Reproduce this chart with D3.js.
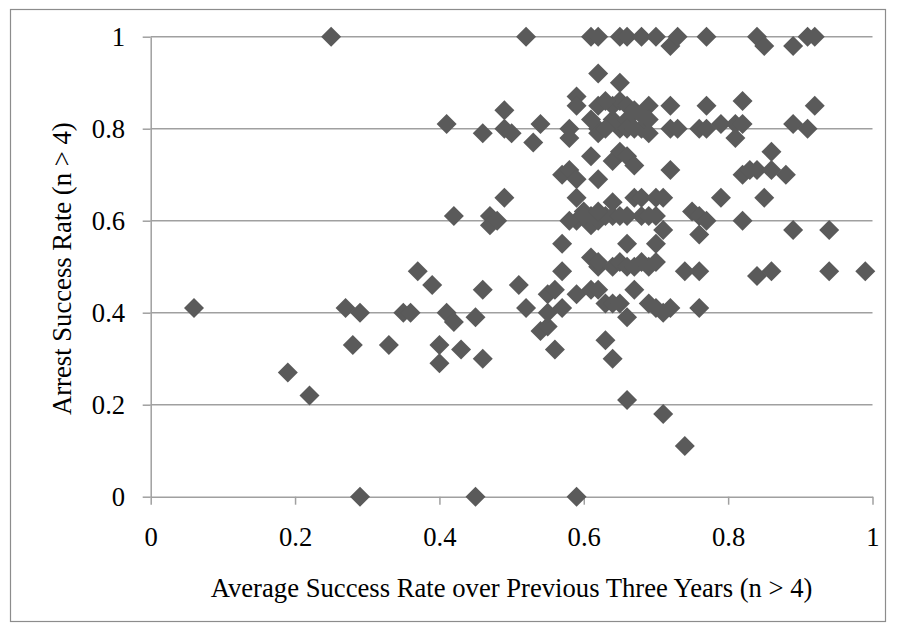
<!DOCTYPE html>
<html>
<head>
<meta charset="utf-8">
<script src="https://cdn.jsdelivr.net/npm/d3@7"></script>
<style>
  html, body { margin: 0; padding: 0; background: #fff; }
  svg { display: block; }
  text { font-family: "Liberation Serif", "Times New Roman", serif; fill: #000; }
</style>
</head>
<body>
<svg id="chart" width="897" height="630"></svg>
<script>
// ---- data ----
const xValues = [
  0.06,0.19,0.22,0.25,0.27,0.28,0.29,0.29,0.33,0.35,0.36,0.37,0.39,0.40,0.40,0.41,0.42,0.42,0.41,0.43,
  0.45,0.45,0.46,0.46,0.46,0.47,0.47,0.48,0.49,0.49,0.49,0.50,0.51,0.52,0.52,0.53,0.54,0.54,0.55,0.55,
  0.55,0.56,0.56,0.57,0.57,0.57,0.57,0.58,0.58,0.58,0.59,0.59,0.59,0.59,0.59,0.59,0.59,0.60,0.61,0.61,
  0.61,0.61,0.61,0.61,0.62,0.62,0.62,0.62,0.62,0.62,0.62,0.62,0.62,0.62,0.63,0.63,0.63,0.64,0.64,0.64,
  0.64,0.64,0.64,0.64,0.64,0.65,0.65,0.65,0.65,0.65,0.65,0.65,0.65,0.66,0.66,0.66,0.66,0.66,0.66,0.66,
  0.66,0.66,0.66,0.67,0.67,0.67,0.67,0.67,0.68,0.68,0.68,0.68,0.68,0.69,0.69,0.69,0.69,0.69,0.69,0.70,
  0.70,0.70,0.70,0.70,0.70,0.71,0.71,0.71,0.71,0.72,0.72,0.72,0.72,0.72,0.73,0.73,0.74,0.74,0.75,0.76,
  0.76,0.76,0.76,0.76,0.77,0.77,0.77,0.77,0.79,0.79,0.81,0.81,0.82,0.82,0.82,0.82,0.83,0.84,0.84,0.84,
  0.85,0.85,0.86,0.86,0.86,0.88,0.89,0.89,0.89,0.91,0.91,0.92,0.92,0.94,0.94,0.99,
  0.60,0.61,0.62,0.63,0.63,0.67,0.68,0.58
];
const yValues = [
  0.41,0.27,0.22,1.00,0.41,0.33,0.40,0.00,0.33,0.40,0.40,0.49,0.46,0.33,0.29,0.40,0.38,0.61,0.81,0.32,
  0.39,0.00,0.45,0.30,0.79,0.61,0.59,0.60,0.84,0.80,0.65,0.79,0.46,0.41,1.00,0.77,0.81,0.36,0.37,0.40,
  0.44,0.45,0.32,0.41,0.49,0.55,0.70,0.71,0.80,0.78,0.87,0.85,0.69,0.65,0.60,0.44,0.00,0.62,0.82,0.74,
  0.59,0.52,0.45,1.00,1.00,0.92,0.85,0.80,0.79,0.69,0.60,0.50,0.45,0.51,0.42,0.34,0.61,0.82,0.85,0.73,
  0.64,0.61,0.50,0.42,0.30,1.00,0.90,0.86,0.80,0.75,0.61,0.51,0.42,1.00,0.85,0.82,0.80,0.74,0.61,0.55,
  0.50,0.39,0.21,0.84,0.72,0.65,0.50,0.45,1.00,0.65,0.61,0.80,0.51,0.85,0.82,0.79,0.61,0.50,0.42,1.00,
  0.65,0.61,0.55,0.51,0.41,0.65,0.58,0.40,0.18,0.98,0.85,0.80,0.71,0.41,1.00,0.80,0.49,0.11,0.62,0.61,
  0.80,0.57,0.49,0.41,1.00,0.85,0.80,0.60,0.81,0.65,0.81,0.78,0.86,0.81,0.70,0.60,0.71,1.00,0.71,0.48,
  0.98,0.65,0.75,0.71,0.49,0.70,0.98,0.81,0.58,1.00,0.80,1.00,0.85,0.58,0.49,0.49,
  0.61,0.61,0.62,0.80,0.86,0.80,0.83,0.60
];
const xTicks = [0, 0.2, 0.4, 0.6, 0.8, 1];
const yTicks = [0, 0.2, 0.4, 0.6, 0.8, 1];
const xTitle = "Average Success Rate over Previous Three Years (n > 4)";
const yTitle = "Arrest Success Rate (n > 4)";

// ---- layout ----
const svg = d3.select("#chart");
const mLeft = 150.7, mRight = 872.5, mTop = 36.7, mBottom = 496.7;
const x = d3.scaleLinear().domain([0, 1]).range([mLeft, mRight]);
const y = d3.scaleLinear().domain([0, 1]).range([mBottom, mTop]);
const fmt = d3.format("~g");
const lineColor = "#a0a0a0";
const fontSize = "26.67px";

// outer border
svg.append("rect")
  .attr("x", 10.5).attr("y", 9.5)
  .attr("width", 875).attr("height", 612)
  .attr("fill", "none").attr("stroke", "#8c8c8c").attr("stroke-width", 1.2);

// horizontal gridlines
svg.append("g").selectAll("line")
  .data(yTicks.filter(d => d > 0))
  .join("line")
  .attr("x1", mLeft).attr("x2", mRight)
  .attr("y1", d => y(d)).attr("y2", d => y(d))
  .attr("stroke", lineColor).attr("stroke-width", 1.5);

// y axis
const gy = svg.append("g")
  .attr("transform", `translate(${mLeft},0)`)
  .call(d3.axisLeft(y).tickValues(yTicks).tickFormat(fmt).tickSize(8).tickSizeOuter(0).tickPadding(17.5));
// x axis
const gx = svg.append("g")
  .attr("transform", `translate(0,${mBottom})`)
  .call(d3.axisBottom(x).tickValues(xTicks).tickFormat(fmt).tickSize(8).tickSizeOuter(0));

[gx, gy].forEach(g => {
  g.selectAll(".domain").attr("stroke", lineColor).attr("stroke-width", 1.5);
  g.selectAll(".tick line").attr("stroke", lineColor).attr("stroke-width", 1.5);
  g.selectAll("text").attr("font-family", "Liberation Serif, Times New Roman, serif")
    .attr("font-size", fontSize).attr("fill", "#000");
});
gx.selectAll(".tick text").attr("y", 49.5).attr("dy", null);

// axis titles
svg.append("text")
  .attr("x", (mLeft + mRight) / 2).attr("y", 597)
  .attr("text-anchor", "middle")
  .attr("font-size", fontSize)
  .text(xTitle);
svg.append("text")
  .attr("transform", `translate(71,${(mTop + mBottom) / 2 + 2}) rotate(-90)`)
  .attr("text-anchor", "middle")
  .attr("font-size", fontSize)
  .text(yTitle);

// points
const points = xValues.map((v, i) => ({ x: v, y: yValues[i] }));
svg.append("g").selectAll("path")
  .data(points)
  .join("path")
  .attr("d", "M0,-10L10,0L0,10L-10,0Z")
  .attr("transform", d => `translate(${x(d.x)},${y(d.y)})`)
  .attr("fill", "#5a5a5a");
</script>
</body>
</html>
